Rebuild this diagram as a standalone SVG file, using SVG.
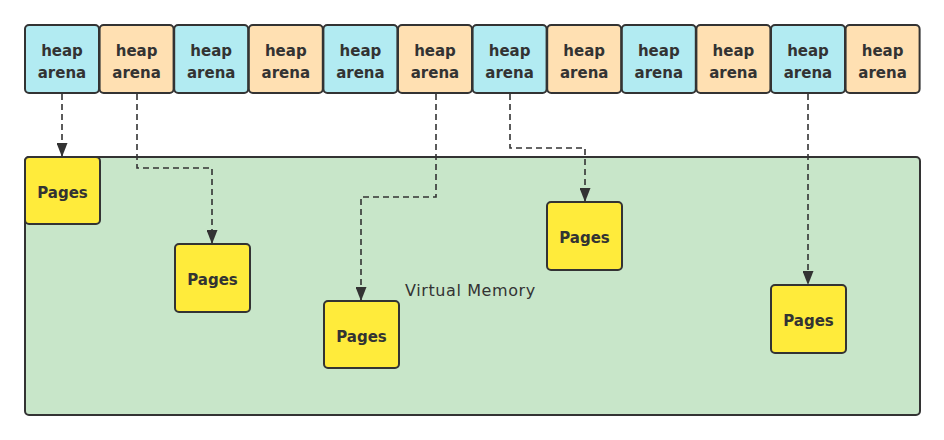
<svg xmlns="http://www.w3.org/2000/svg" width="944" height="440" viewBox="0 0 944 440">
<defs>
<style>
.a{stroke:#333;stroke-width:2}
.c{fill:#b2ebf2}
.o{fill:#ffe0b2}
.p{fill:#ffeb3b;stroke:#333;stroke-width:2}
.vm{fill:#c8e6c9;stroke:#333;stroke-width:2}
.t{font-family:"Comic Sans MS","DejaVu Sans",sans-serif;font-weight:bold;font-size:15px;fill:#333;text-anchor:middle}
.l{font-family:"Comic Sans MS","DejaVu Sans",sans-serif;font-size:16px;letter-spacing:0.6px;fill:#333}
.e{fill:none;stroke:#333;stroke-width:1.6;stroke-dasharray:6 4}
</style>
<marker id="ar" viewBox="0 0 14 11" refX="13" refY="5.5" markerWidth="14" markerHeight="11" markerUnits="userSpaceOnUse" orient="auto"><path d="M0,0L14,5.5L0,11z" fill="#333"/></marker>
</defs>
<g id="vm"><rect class="vm" x="25" y="157" width="895" height="258" rx="4"/><text class="l" x="405" y="296">Virtual Memory</text></g>
<g id="arenas">
<g id="a1"><rect class="a c" x="25" y="25" width="74" height="68" rx="4"/><text class="t" x="62" y="56">heap</text><text class="t" x="62" y="78">arena</text></g>
<g id="a2"><rect class="a o" x="99.6" y="25" width="74" height="68" rx="4"/><text class="t" x="136.6" y="56">heap</text><text class="t" x="136.6" y="78">arena</text></g>
<g id="a3"><rect class="a c" x="174.2" y="25" width="74" height="68" rx="4"/><text class="t" x="211.2" y="56">heap</text><text class="t" x="211.2" y="78">arena</text></g>
<g id="a4"><rect class="a o" x="248.8" y="25" width="74" height="68" rx="4"/><text class="t" x="285.8" y="56">heap</text><text class="t" x="285.8" y="78">arena</text></g>
<g id="a5"><rect class="a c" x="323.4" y="25" width="74" height="68" rx="4"/><text class="t" x="360.4" y="56">heap</text><text class="t" x="360.4" y="78">arena</text></g>
<g id="a6"><rect class="a o" x="398" y="25" width="74" height="68" rx="4"/><text class="t" x="435" y="56">heap</text><text class="t" x="435" y="78">arena</text></g>
<g id="a7"><rect class="a c" x="472.6" y="25" width="74" height="68" rx="4"/><text class="t" x="509.6" y="56">heap</text><text class="t" x="509.6" y="78">arena</text></g>
<g id="a8"><rect class="a o" x="547.2" y="25" width="74" height="68" rx="4"/><text class="t" x="584.2" y="56">heap</text><text class="t" x="584.2" y="78">arena</text></g>
<g id="a9"><rect class="a c" x="621.8" y="25" width="74" height="68" rx="4"/><text class="t" x="658.8" y="56">heap</text><text class="t" x="658.8" y="78">arena</text></g>
<g id="a10"><rect class="a o" x="696.4" y="25" width="74" height="68" rx="4"/><text class="t" x="733.4" y="56">heap</text><text class="t" x="733.4" y="78">arena</text></g>
<g id="a11"><rect class="a c" x="771" y="25" width="74" height="68" rx="4"/><text class="t" x="808" y="56">heap</text><text class="t" x="808" y="78">arena</text></g>
<g id="a12"><rect class="a o" x="845.6" y="25" width="74" height="68" rx="4"/><text class="t" x="882.6" y="56">heap</text><text class="t" x="882.6" y="78">arena</text></g>
</g>
<g id="pages">
<g id="p1"><rect class="p" x="25" y="157" width="75" height="67" rx="4"/><text class="t" x="62.5" y="198">Pages</text></g>
<g id="p2"><rect class="p" x="175" y="244" width="75" height="68" rx="4"/><text class="t" x="212.5" y="285">Pages</text></g>
<g id="p3"><rect class="p" x="324" y="301" width="75" height="67" rx="4"/><text class="t" x="361.5" y="342">Pages</text></g>
<g id="p4"><rect class="p" x="547" y="202" width="75" height="68" rx="4"/><text class="t" x="584.5" y="243">Pages</text></g>
<g id="p5"><rect class="p" x="771" y="285" width="75" height="68" rx="4"/><text class="t" x="808.5" y="326">Pages</text></g>
</g>
<g id="connectors">
<path class="e" d="M62,94V156" marker-end="url(#ar)"/>
<path class="e" d="M137,94V168H212V243" marker-end="url(#ar)"/>
<path class="e" d="M436,94V197H361V300" marker-end="url(#ar)"/>
<path class="e" d="M510,94V148H585V201" marker-end="url(#ar)"/>
<path class="e" d="M808,94V284" marker-end="url(#ar)"/>
</g>
</svg>
